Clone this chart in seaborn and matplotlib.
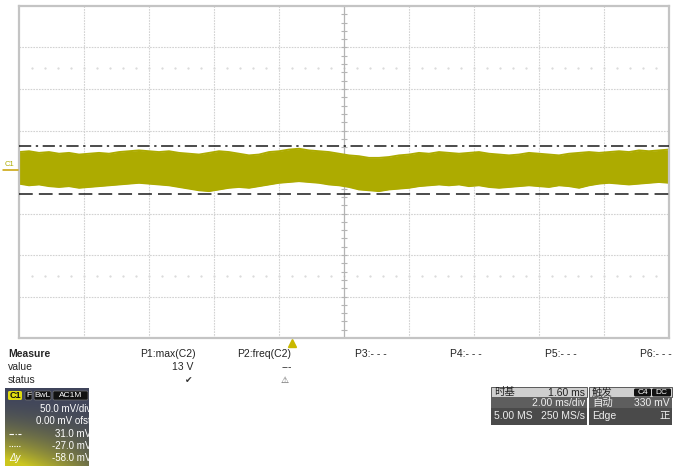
import numpy as np
import pandas as pd
from matplotlib import pyplot as plt
from matplotlib import patches, transforms
from matplotlib.lines import Line2D
import seaborn as sns

# scope settings
volts_div = 50.0        # mV/div, C1
time_div = 2.0          # ms/div
delay_ms = 1.60
trig_level = 330        # mV
cursor_dashdot = 31.0   # mV
cursor_dash = -27.0     # mV
cursor_delta = -58.0    # mV

# C1 band envelope (mV), left to right across the 10 divisions
upper_mv = [24, 25, 23, 24, 22, 23, 21, 22, 23, 22, 24, 25, 26, 25, 24, 25, 23,
            22, 21, 23, 25, 24, 22, 20, 21, 24, 25, 27, 28, 26, 25, 24, 22, 20,
            19, 17, 17, 18, 20, 21, 23, 22, 24, 23, 22, 23, 24, 22, 21, 20, 21,
            23, 22, 21, 20, 22, 23, 24, 23, 24, 25, 24, 26, 25, 26, 27]
lower_mv = [-14, -16, -15, -17, -18, -17, -19, -18, -17, -16, -15, -14, -13, -14,
            -15, -16, -18, -20, -22, -23, -21, -19, -18, -19, -17, -15, -13, -12,
            -11, -12, -13, -15, -16, -18, -21, -22, -23, -21, -20, -19, -17, -16,
            -15, -16, -15, -17, -16, -18, -19, -18, -17, -16, -17, -18, -16, -17,
            -19, -16, -14, -13, -14, -15, -14, -13, -12, -13]

measure_heads = ['P1:max(C2)', 'P2:freq(C2)', 'P3:- - -', 'P4:- - -', 'P5:- - -', 'P6:- - -']
measure_values = ['13 V', '---']
measure_status = ['\u2714', '\u26a0']

sns.set_theme(style='white')
plt.rcParams['font.family'] = ['Liberation Sans', 'Noto Sans CJK SC', 'DejaVu Sans']

W, H = 678, 466
fig = plt.figure(figsize=(W / 100, H / 100), dpi=100)


def box(x0, y0, x1, y1):
    # pixel box (top-left origin) -> figure rect
    return [x0 / W, 1 - y1 / H, (x1 - x0) / W, (y1 - y0) / H]


def fx(x):
    return x / W


def fy(y):
    return 1 - y / H


trace = '#adab00'

# ---- main screen ----
ax = fig.add_axes(box(19, 6, 669, 338))
t0 = delay_ms - 5 * time_div
t1 = delay_ms + 5 * time_div
ymax = 4 * volts_div
t = np.linspace(t0, t1, len(upper_mv))
df = pd.DataFrame({'t': t, 'upper': upper_mv, 'lower': lower_mv})

grid_c = '#d2d2d2'
for i in range(1, 10):
    if i != 5:
        ax.axvline(t0 + i * time_div, color=grid_c, lw=0.8, ls=(0, (1.5, 1)), zorder=0)
for j in range(-3, 4):
    if j != 0:
        ax.axhline(j * volts_div, color=grid_c, lw=0.8, ls=(0, (1.5, 1)), zorder=0)

# faint dot rows
dots_t = np.arange(t0 + time_div / 5, t1, time_div / 5)
for yy in (2.5 * volts_div, -2.5 * volts_div):
    ax.plot(dots_t, np.full_like(dots_t, yy), ls='none', marker='.', ms=1.2,
            color='#d8d8d8', zorder=0)

# center cross with ticks
ax.axvline(delay_ms, color='#b4b4b4', lw=0.9, zorder=0)
ax.axhline(0, color='#b4b4b4', lw=0.9, zorder=0)
ty = np.arange(-ymax, ymax + 1, volts_div / 5)
ax.hlines(ty, delay_ms - 0.08, delay_ms + 0.08, color='#b4b4b4', lw=0.8, zorder=0)
tx = np.arange(t0, t1 + 0.01, time_div / 5)
ax.vlines(tx, -3.6, 3.6, color='#b4b4b4', lw=0.8, zorder=0)

ax.fill_between(df['t'], df['lower'], df['upper'], color=trace, lw=0, zorder=2)
sns.lineplot(data=df, x='t', y='upper', color=trace, lw=1.4, ax=ax, zorder=2)
sns.lineplot(data=df, x='t', y='lower', color=trace, lw=1.4, ax=ax, zorder=2)

ax.axhline(cursor_dashdot, color='#1a1a1a', lw=1.1, ls=(0, (8, 3, 1.5, 3)), zorder=3)
ax.axhline(cursor_dash, color='#1a1a1a', lw=1.1, ls=(0, (9, 4)), zorder=3)

ax.set_xlim(t0, t1)
ax.set_ylim(-ymax, ymax)
ax.set_xlabel('')
ax.set_ylabel('')
ax.set_xticks([])
ax.set_yticks([])
for s in ax.spines.values():
    s.set_color('#c4c4c4')
    s.set_linewidth(1.6)

# trigger position marker under the screen
trans = transforms.blended_transform_factory(ax.transData, ax.transAxes)
ax.plot([0], [-0.016], marker='^', ms=5.5, color='#c9b800', transform=trans,
        clip_on=False)

# channel marker on the left
fig.text(fx(5), fy(165), 'C1', fontsize=5.5, color=trace, ha='left', va='center',
         rotation=0)
fig.add_artist(Line2D([fx(3), fx(18)], [fy(170), fy(170)], color='#c8a000', lw=1.1))

# ---- measurement table ----
fs = 7.5
fig.text(fx(8), fy(354), 'Measure', fontsize=fs, fontweight='bold', va='center')
fig.text(fx(8), fy(367), 'value', fontsize=fs, va='center')
fig.text(fx(8), fy(380), 'status', fontsize=fs, va='center')
head_x = [196, 291, 355, 450, 545, 640]
for k, (hx, lab) in enumerate(zip(head_x, measure_heads)):
    if k < 2:
        fig.text(fx(hx), fy(354), lab, fontsize=fs, ha='right', va='center', color='#222')
    else:
        fig.text(fx(hx), fy(354), lab, fontsize=fs, ha='left', va='center', color='#222')
fig.text(fx(193), fy(367), measure_values[0], fontsize=fs, ha='right', va='center')
fig.text(fx(287), fy(367), measure_values[1], fontsize=fs, ha='center', va='center')
fig.text(fx(189), fy(380), measure_status[0], fontsize=6.5, ha='center', va='center',
         color='#333', family=['DejaVu Sans'])
fig.text(fx(285), fy(380), measure_status[1], fontsize=6.5, ha='center', va='center',
         color='#555', family=['DejaVu Sans'])

# ---- C1 channel box ----
bx = fig.add_axes(box(5, 388, 89, 466))
bw, bh = 84, 78
yy, xx = np.mgrid[0:bh, 0:bw]
wgt = np.clip(((yy / bh) ** 2.2) * (1.25 - 0.9 * xx / bw), 0, 1)[..., None]
base = np.array([0.25, 0.27, 0.36])
glow = np.array([0.80, 0.78, 0.12])
img = base * (1 - wgt) + glow * wgt
bx.imshow(img, extent=(0, bw, bh, 0), aspect='auto')
bx.set_xlim(0, bw)
bx.set_ylim(bh, 0)
bx.axis('off')
bx.add_patch(patches.FancyBboxPatch((3, 3), 14, 9, boxstyle='round,pad=0,rounding_size=1.5',
                                    fc='#e0dc10', ec='none'))
bx.text(10, 7.5, 'C1', fontsize=6.5, fontweight='bold', ha='center', va='center', color='#111')
for x0, x1, lab in [(20, 27, 'F'), (29, 46, 'BwL'), (48, 83, 'AC1M')]:
    bx.add_patch(patches.FancyBboxPatch((x0, 3), x1 - x0, 9,
                                        boxstyle='round,pad=0,rounding_size=1.5',
                                        fc='#111', ec='#777', lw=0.5))
    bx.text((x0 + x1) / 2, 7.5, lab, fontsize=6, ha='center', va='center', color='white')
rows = [(21, f'{volts_div:.1f} mV/div'), (33, '0.00 mV ofst'),
        (46, f'{cursor_dashdot:.1f} mV'), (58, f'{cursor_dash:.1f} mV'),
        (70, f'{cursor_delta:.1f} mV')]
for ry, lab in rows:
    bx.text(bw + 2, ry, lab, fontsize=7, ha='right', va='center', color='white',
            clip_on=True)
bx.plot([4, 16], [46, 46], color='white', lw=0.8, ls=(0, (4, 1.5, 1, 1.5)))
bx.plot([4, 16], [58, 58], color='white', lw=0.8, ls=(0, (1, 1.2)))
bx.text(4, 70, '\u0394y', fontsize=7, style='italic', ha='left', va='center', color='white')

# ---- timebase / trigger boxes ----
tb = fig.add_axes(box(491, 387, 673, 425))
tb.set_xlim(491, 673)
tb.set_ylim(425, 387)
tb.axis('off')
for x0, x1 in [(491, 587), (589, 672)]:
    tb.add_patch(patches.Rectangle((x0, 387), x1 - x0, 10, fc='#cfcfcf', ec='#444', lw=0.6))
    tb.add_patch(patches.Rectangle((x0, 397), x1 - x0, 11, fc='#5e5e5e', ec='none'))
    tb.add_patch(patches.Rectangle((x0, 408), x1 - x0, 17, fc='#4a4a4a', ec='none'))
tfs = 7.5
tb.text(494, 392.5, '时基', fontsize=tfs, ha='left', va='center', color='#222')
tb.text(585, 392.5, f'{delay_ms:.2f} ms', fontsize=tfs, ha='right', va='center', color='#222')
tb.text(585, 403, f'{time_div:.2f} ms/div', fontsize=tfs, ha='right', va='center', color='#eee')
tb.text(494, 416, '5.00 MS', fontsize=tfs, ha='left', va='center', color='#eee')
tb.text(585, 416, '250 MS/s', fontsize=tfs, ha='right', va='center', color='#eee')
tb.text(592, 392.5, '触发', fontsize=tfs, ha='left', va='center', color='#222')
for x0, x1, lab in [(634, 651, 'C4'), (652, 671, 'DC')]:
    tb.add_patch(patches.FancyBboxPatch((x0, 388.5), x1 - x0, 8,
                                        boxstyle='round,pad=0,rounding_size=1.5',
                                        fc='#111', ec='none'))
    tb.text((x0 + x1) / 2, 392.5, lab, fontsize=6, ha='center', va='center', color='white')
tb.text(592, 403, '自动', fontsize=tfs, ha='left', va='center', color='#eee')
tb.text(670, 403, f'{trig_level} mV', fontsize=tfs, ha='right', va='center', color='#eee')
tb.text(592, 416, 'Edge', fontsize=tfs, ha='left', va='center', color='#eee')
tb.text(670, 416, '正', fontsize=tfs, ha='right', va='center', color='#eee')

fig.savefig('out.png', dpi=100)
